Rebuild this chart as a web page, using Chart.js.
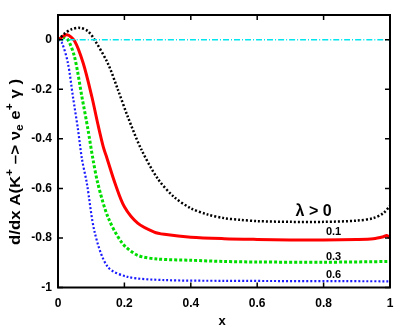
<!DOCTYPE html>
<html>
<head>
<meta charset="utf-8">
<script src="https://cdn.jsdelivr.net/npm/chart.js@4.4.1/dist/chart.umd.min.js"></script>
<style>
  html, body { margin: 0; padding: 0; background: #fff; }
  #wrap { width: 409px; height: 327px; }
</style>
</head>
<body>
<div id="wrap"><canvas id="plot"></canvas></div>
<script>
// values
const xBlack = [0, 0.02, 0.04, 0.066, 0.09, 0.11, 0.15, 0.18, 0.21, 0.25, 0.3, 0.35, 0.4, 0.45, 0.5, 0.55, 0.6, 0.7, 0.8, 0.9, 0.95, 0.98, 1.0]
const yBlack = [0, 0.025, 0.042, 0.048, 0.035, 0, -0.095, -0.2, -0.31, -0.44, -0.56, -0.635, -0.68, -0.705, -0.72, -0.727, -0.732, -0.735, -0.735, -0.73, -0.72, -0.7, -0.67]

const xRed = [0, 0.027, 0.05, 0.076, 0.102, 0.12, 0.136, 0.148, 0.172, 0.2, 0.24, 0.29, 0.32, 0.4, 0.5, 0.6, 0.7, 0.8, 0.9, 0.95, 0.98, 0.99, 1.0]
const yRed = [0, 0.02, -0.005, -0.095, -0.23, -0.34, -0.43, -0.48, -0.58, -0.674, -0.74, -0.776, -0.785, -0.797, -0.803, -0.806, -0.808, -0.808, -0.806, -0.803, -0.795, -0.79, -0.8]

const xGreen = [0, 0.015, 0.03, 0.05, 0.072, 0.09, 0.105, 0.12, 0.15, 0.193, 0.24, 0.3, 0.4, 0.5, 0.6, 0.8, 1.0]
const yGreen = [0, 0.01, 0, -0.07, -0.23, -0.36, -0.48, -0.58, -0.714, -0.82, -0.87, -0.885, -0.89, -0.895, -0.897, -0.898, -0.895]

const xBlue = [0, 0.012, 0.03, 0.045, 0.06, 0.072, 0.087, 0.111, 0.15, 0.21, 0.32, 0.5, 1.0]
const yBlue = [0, -0.013, -0.095, -0.23, -0.36, -0.48, -0.58, -0.78, -0.917, -0.957, -0.97, -0.973, -0.975]

const xZero = [0, 1]
const yZero = [0, 0]

const xTicks = [0, 0.2, 0.4, 0.6, 0.8, 1]
const yTicks = [-1, -0.8, -0.6, -0.4, -0.2, 0]

// curve labels: text, x, y (data coords)
const curveLabels = [
  ['\u03bb > 0', 0.77, -0.695, 'bold 16px "Liberation Sans"'],
  ['0.1', 0.83, -0.775, 'bold 11px "Liberation Sans"'],
  ['0.3', 0.83, -0.875, 'bold 11px "Liberation Sans"'],
  ['0.6', 0.83, -0.948, 'bold 11px "Liberation Sans"'],
]

const pts = (xs, ys) => xs.map((x, i) => ({ x: x, y: ys[i] }))

const FONT = '"Liberation Sans", Arial, sans-serif'

const framePlugin = {
  id: 'frame',
  afterDatasetsDraw(chart) {
    const ctx = chart.ctx
    const a = chart.chartArea
    const xs = chart.scales.x
    const ys = chart.scales.y
    ctx.save()
    ctx.strokeStyle = '#000'
    ctx.lineWidth = 2
    ctx.strokeRect(a.left, a.top, a.right - a.left, a.bottom - a.top)
    ctx.lineWidth = 1.5
    ctx.beginPath()
    xTicks.forEach(v => {
      const p = xs.getPixelForValue(v)
      ctx.moveTo(p, a.bottom); ctx.lineTo(p, a.bottom - 5)
      ctx.moveTo(p, a.top); ctx.lineTo(p, a.top + 5)
    })
    yTicks.forEach(v => {
      const p = ys.getPixelForValue(v)
      ctx.moveTo(a.left, p); ctx.lineTo(a.left + 5, p)
      ctx.moveTo(a.right, p); ctx.lineTo(a.right - 5, p)
    })
    ctx.stroke()

    // curve labels
    ctx.fillStyle = '#000'
    ctx.textAlign = 'center'
    ctx.textBaseline = 'middle'
    curveLabels.forEach(([t, x, y, f]) => {
      ctx.font = f
      ctx.fillText(t, xs.getPixelForValue(x), ys.getPixelForValue(y))
    })

    // x title
    ctx.font = 'bold 13px ' + FONT
    ctx.fillText('x', (a.left + a.right) / 2 - 2, 321)

    // y title with super/subscripts, stretched to the reference length
    const parts = [
      ['d/dx A(K', 0, 14], ['+', -6, 10], [' \u2013> \u03bd', 0, 14], ['e', 4, 10],
      [' e', 0, 14], ['+', -6, 10], [' \u03b3 )', 0, 14],
    ]
    ctx.translate(16, 162)
    ctx.rotate(-Math.PI / 2)
    ctx.textAlign = 'left'
    let w = 0
    parts.forEach(([t, dy, s]) => { ctx.font = 'bold ' + s + 'px ' + FONT; w += ctx.measureText(t).width })
    const k = 166 / w
    ctx.scale(k, 1)
    let cx = -w / 2
    parts.forEach(([t, dy, s]) => {
      ctx.font = 'bold ' + s + 'px ' + FONT
      ctx.fillText(t, cx, dy)
      cx += ctx.measureText(t).width
    })
    ctx.restore()
  }
}

const cfg = {
  type: 'scatter',
  data: {
    datasets: [
      { label: 'zero', data: pts(xZero, yZero), borderColor: '#00e5ee', borderWidth: 1.5, borderDash: [6, 2, 1, 2] },
      { label: 'black', data: pts(xBlack, yBlack), borderColor: '#000', borderWidth: 2.5, borderDash: [2, 2] },
      { label: 'red', data: pts(xRed, yRed), borderColor: '#ff0000', borderWidth: 3 },
      { label: 'green', data: pts(xGreen, yGreen), borderColor: '#00dd00', borderWidth: 3, borderDash: [3, 2] },
      { label: 'blue', data: pts(xBlue, yBlue), borderColor: '#1a1aff', borderWidth: 2.2, borderDash: [2, 2] },
    ].map(d => Object.assign(d, { showLine: true, pointRadius: 0, tension: 0.3, fill: false })),
  },
  options: {
    responsive: true,
    maintainAspectRatio: false,
    animation: false,
    layout: { padding: { left: 0, right: 19, top: 15, bottom: 0 } },
    plugins: { legend: { display: false }, tooltip: { enabled: false } },
    scales: {
      x: {
        type: 'linear', min: 0, max: 1,
        afterBuildTicks: s => { s.ticks = xTicks.map(v => ({ value: v })) },
        afterFit: s => { s.height = 39.5 },
        grid: { display: false, drawTicks: false },
        border: { display: false },
        ticks: {
          padding: 9, maxRotation: 0, color: '#000',
          font: { family: FONT, weight: 'bold', size: 12 },
          callback: v => String(v),
        },
      },
      y: {
        type: 'linear', min: -1, max: 0.1,
        afterBuildTicks: s => { s.ticks = yTicks.map(v => ({ value: v })) },
        afterFit: s => { s.width = 58 },
        grid: { display: false, drawTicks: false },
        border: { display: false },
        ticks: {
          padding: 6, color: '#000',
          font: { family: FONT, weight: 'bold', size: 12 },
          callback: v => String(Math.round(v * 10) / 10),
        },
      },
    },
  },
  plugins: [framePlugin],
}

window.myPlot = new Chart(document.getElementById('plot'), cfg)
</script>
</body>
</html>
